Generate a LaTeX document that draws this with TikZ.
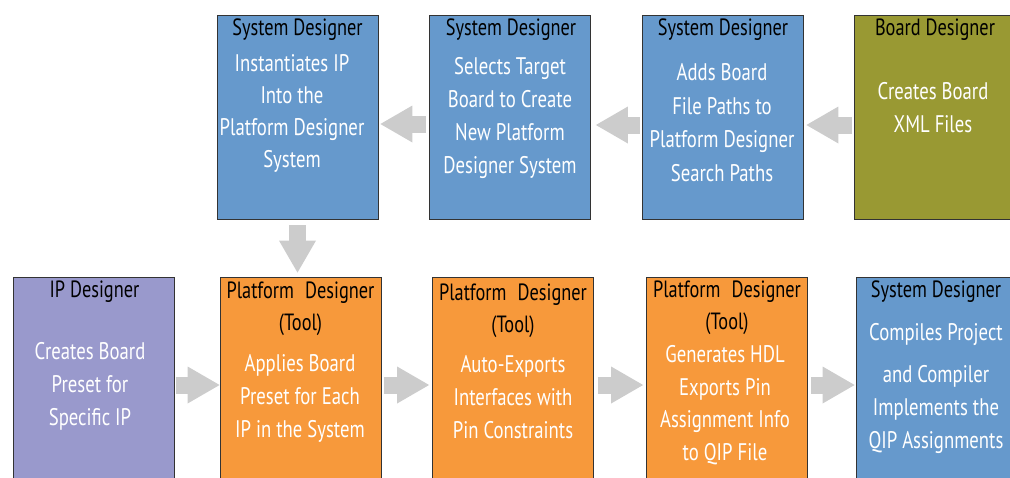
\documentclass[tikz,border=0pt]{standalone}
\usepackage{fontspec}
\setmainfont{PT Sans}[FakeStretch=0.78]
\usetikzlibrary{arrows.meta,calc}
\definecolor{SysClr}{rgb}{0.4,0.6,0.8}
\definecolor{BoardClr}{rgb}{0.6,0.6,0.2}
\definecolor{ToolClr}{rgb}{0.97,0.6,0.23}
\definecolor{IPClr}{rgb}{0.6,0.6,0.8}
\definecolor{ArrowClr}{rgb}{0.8,0.8,0.8}
\definecolor{EdgeClr}{rgb}{0.2,0.2,0.2}

\begin{document}
\begin{tikzpicture}[x=1pt,y=-1pt,
  box/.style={draw=EdgeClr,line width=0.8pt,minimum width=161pt,minimum height=204pt,inner sep=0pt},
  head/.style={text=black,inner sep=0pt,align=center,font=\fontsize{23.5}{32}\selectfont},
  body/.style={text=white,inner sep=0pt,align=center,font=\fontsize{24}{33}\selectfont},
  flow/.style={ArrowClr,line width=17pt,shorten <=3pt,shorten >=2pt,-{Triangle[length=32pt,width=37pt,line width=0pt]}}]
\useasboundingbox (0,0) rectangle (1010,477);
\clip (0,0) rectangle (1010,477);

\node[box,fill=SysClr] (Inst) at (297.5,117) {};
\node[box,fill=SysClr] (Sel) at (510,117) {};
\node[box,fill=SysClr] (Add) at (722.5,117) {};
\node[box,fill=BoardClr] (Xml) at (934.5,117) {};
\node[box,fill=IPClr] (Pre) at (94,379) {};
\node[box,fill=ToolClr] (App) at (300.5,379) {};
\node[box,fill=ToolClr] (Auto) at (513,379) {};
\node[box,fill=ToolClr] (Gen) at (727,379) {};
\node[box,fill=SysClr] (Comp) at (936.5,379) {};

\node[head] (InstH) at (297.5,30) {System Designer};
\node[head] (SelH) at (511,30) {System Designer};
\node[head] (AddH) at (723,30) {System Designer};
\node[head] (XmlH) at (935,30) {Board Designer};
\node[head] (PreH) at (94.5,292) {IP Designer};
\node[head] (AppH) at (300.5,308.5) {Platform\hspace{11pt}Designer\\(Tool)};
\node[head] (AutoH) at (513,310.5) {Platform\hspace{11pt}Designer\\(Tool)};
\node[head] (GenH) at (727,307.5) {Platform\hspace{11pt}Designer\\(Tool)};
\node[head] (CompH) at (936,292) {System Designer};

\node[body,font=\fontsize{24}{32}\selectfont] (InstT) at (292,113) {Instantiates IP\\Into the\\Platform Designer\\System};
\node[body] (SelT) at (510,117.5) {Selects Target\\Board to Create\\New Platform\\Designer System};
\node[body,font=\fontsize{24}{33.5}\selectfont] (AddT) at (722,122.5) {Adds Board\\File Paths to\\Platform Designer\\Search Paths};
\node[body] (XmlT) at (933,108) {Creates Board\\XML Files};
\node[body] (PreT) at (90,386) {Creates Board\\Preset for\\Specific IP};
\node[body] (AppT) at (300,398) {Applies Board\\Preset for Each\\IP in the System};
\node[body] (AutoT) at (513,397) {Auto-Exports\\Interfaces with\\Pin Constraints};
\node[body,font=\fontsize{24}{32.5}\selectfont] (GenT) at (725,405) {Generates HDL\\Exports Pin\\Assignment Info\\to QIP File};
\node[body] (CompT) at (936,388.5) {Compiles Project\\[9pt]and Compiler\\Implements the\\QIP Assignments};

\draw[flow] ([yshift=-7pt]Sel.west) -- ([yshift=-7pt]Inst.east);
\draw[flow,shorten <=2pt,shorten >=5pt] ([yshift=-8pt]Add.west) -- ([yshift=-8pt]Sel.east);
\draw[flow,shorten <=2pt,shorten >=3pt] ([yshift=-8pt]Xml.west) -- ([yshift=-8pt]Add.east);
\draw[flow,shorten <=6pt,shorten >=4pt] (Inst.south) -- (Inst.south |- App.north);
\draw[flow,shorten <=1pt,shorten >=0pt] ([yshift=-6pt]Pre.east) -- ([yshift=-6pt]App.west);
\draw[flow,shorten >=3pt] ([yshift=-6pt]App.east) -- ([yshift=-6pt]Auto.west);
\draw[flow,shorten <=4pt,shorten >=3pt] ([yshift=-6pt]Auto.east) -- ([yshift=-6pt]Gen.west);
\draw[flow,shorten >=1pt] ([yshift=-6pt]Gen.east) -- ([yshift=-6pt]Comp.west);
\end{tikzpicture}
\end{document}
